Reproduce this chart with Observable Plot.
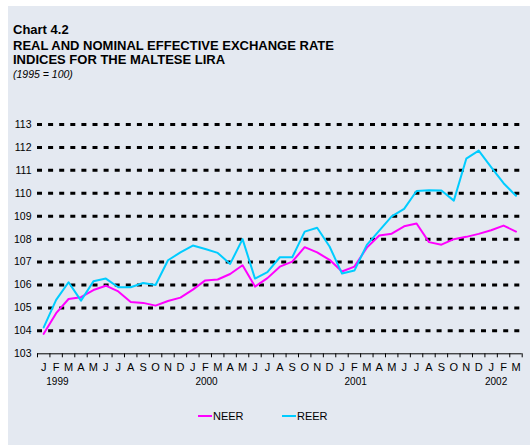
<!DOCTYPE html>
<html>
<head>
<meta charset="utf-8">
<script src="https://cdn.jsdelivr.net/npm/d3@7"></script>
<script src="https://cdn.jsdelivr.net/npm/@observablehq/plot@0.6"></script>
<style>
  html, body { margin: 0; padding: 0; background: #ffffff; width: 530px; height: 445px; overflow: hidden; }
  body { position: relative; font-family: "Liberation Sans", Arial, sans-serif; color: #000; }
  #panel { position: absolute; left: 8px; top: 6px; width: 522px; height: 439px; background: #e4e9f1; }
  .t { position: absolute; left: 13px; white-space: nowrap; font-weight: bold; font-size: 13px; line-height: 1; }
  #sub { position: absolute; left: 13px; top: 68px; font-style: italic; font-size: 10.5px; white-space: nowrap; }
  #chart { position: absolute; left: 0; top: 90px; }
  .leg { position: absolute; top: 410px; font-size: 11px; display: flex; align-items: center; }
  .sw { display: inline-block; width: 14px; height: 2px; margin-right: 1px; }
</style>
</head>
<body>
<div id="panel"></div>
<div class="t" style="top:23px">Chart 4.2</div>
<div class="t" style="top:39px">REAL AND NOMINAL EFFECTIVE EXCHANGE RATE</div>
<div class="t" style="top:53px">INDICES FOR THE MALTESE LIRA</div>
<div id="sub">(1995 = 100)</div>
<div id="chart"></div>
<div class="leg" style="left:198px"><span class="sw" style="background:#ff00ff"></span>NEER</div>
<div class="leg" style="left:282px"><span class="sw" style="background:#00ccff"></span>REER</div>
<script>
// Month labels, Jan 1999 – Mar 2002
const monthLabels = ["J","F","M","A","M","J","J","A","S","O","N","D",
                     "J","F","M","A","M","J","J","A","S","O","N","D",
                     "J","F","M","A","M","J","J","A","S","O","N","D",
                     "J","F","M"];
const yearLabels = ["1999", "2000", "2001", "2002"];
const yearLabelPos = [1.1, 13.1, 25.1, 36.4];
const yTicks = [103,104,105,106,107,108,109,110,111,112,113];

const neer = [103.87,104.77,105.39,105.47,105.78,105.97,105.72,105.26,105.22,105.10,105.30,105.45,
              105.80,106.20,106.24,106.48,106.86,105.93,106.30,106.80,107.02,107.65,107.42,107.10,
              106.59,106.80,107.63,108.16,108.24,108.56,108.68,107.87,107.76,108.00,108.10,108.23,
              108.39,108.59,108.33];
const reer = [104.15,105.35,106.12,105.32,106.16,106.28,105.90,105.90,106.09,106.00,107.08,107.42,
              107.72,107.57,107.40,106.92,108.00,106.28,106.56,107.21,107.21,108.33,108.50,107.68,
              106.50,106.63,107.75,108.37,108.99,109.32,110.10,110.13,110.12,109.68,111.51,111.86,
              111.14,110.44,109.89];

const rows = monthLabels.map((m, i) => ({i, neer: neer[i], reer: reer[i]}));
const boundaries = d3.range(monthLabels.length + 1).map(k => k - 0.5);

const chart = Plot.plot({
  width: 530,
  height: 310,
  marginLeft: 37,
  marginRight: 8.3,
  marginTop: 34,
  marginBottom: 46.7,
  style: {background: "transparent", fontFamily: "Liberation Sans, Arial, sans-serif", color: "#000", overflow: "visible"},
  x: {type: "linear", domain: [-0.5, monthLabels.length - 0.5], label: null},
  y: {domain: [103, 113], label: null},
  marks: [
    Plot.ruleY(yTicks.filter(v => v > 103), {stroke: "#000", strokeWidth: 3, strokeDasharray: "5,6.1"}),
    Plot.ruleY([103], {stroke: "#000", strokeWidth: 1}),
    Plot.axisX({ticks: boundaries, tickSize: 4, tickFormat: () => "", stroke: "#000", strokeOpacity: 1, label: null}),
    Plot.axisX({ticks: d3.range(monthLabels.length), tickSize: 0, tickPadding: 9,
                tickFormat: d => monthLabels[d], fontSize: 11, label: null}),
    Plot.axisX({ticks: yearLabelPos, tickSize: 0, tickPadding: 24,
                tickFormat: (d, k) => yearLabels[k], fontSize: 10, label: null}),
    Plot.axisY({ticks: yTicks, tickSize: 0, tickPadding: 6, fontSize: 10.5, label: null}),
    Plot.line(rows, {x: "i", y: "neer", stroke: "#ff00ff", strokeWidth: 2}),
    Plot.line(rows, {x: "i", y: "reer", stroke: "#00ccff", strokeWidth: 2})
  ]
});
document.getElementById("chart").appendChild(chart);
</script>
</body>
</html>
